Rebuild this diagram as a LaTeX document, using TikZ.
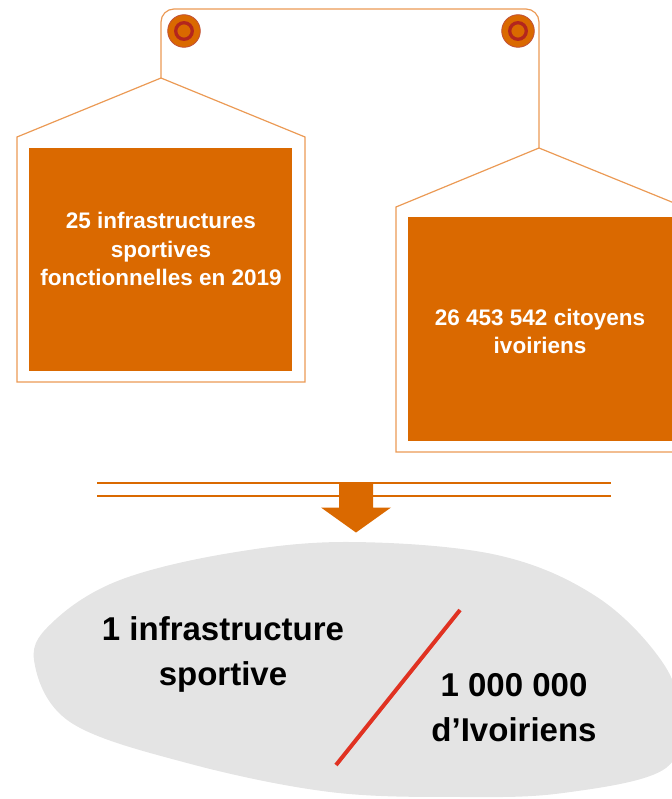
\documentclass[tikz,border=0pt]{standalone}
\usepackage{fontspec}
\setmainfont{Liberation Sans}
\definecolor{orng}{HTML}{DA6900}
\definecolor{edgeor}{HTML}{EB9A55}
\definecolor{pinedge}{HTML}{C0503A}
\definecolor{pinring}{HTML}{B3261E}
\definecolor{blobgrey}{HTML}{E4E4E4}
\definecolor{slashred}{HTML}{E03222}
\begin{document}
\begin{tikzpicture}[x=1pt,y=-1pt,
  outline/.style={draw=edgeor, line width=1.2pt, line join=miter},
  orbox/.style={fill=orng, draw=none, inner sep=0pt, outer sep=0pt},
  tack/.style={circle, fill=orng, draw=pinedge, line width=0.8pt, minimum size=32.6pt, inner sep=0pt},
  tagtext/.style={text=white, font=\bfseries\fontsize{22.5}{28}\selectfont, align=center, inner sep=0pt},
  blobtext/.style={text=black, font=\bfseries\fontsize{33}{45}\selectfont, align=center, inner sep=0pt},
  rule/.style={draw=orng, line width=2pt}]
\useasboundingbox (0,0) rectangle (671,799);
% grey blob
\fill[blobgrey] plot[smooth cycle, tension=0.6] coordinates {(34,660) (55,620) (120,580) (230,553) (350,542) (497,555) (597,597) (663,663) (680,720) (663,770) (563,793) (463,797) (330,792) (187,763) (70,722)};
% hanging frame
\draw[outline, rounded corners=13pt] (161,79) -- (161,9) -- (539,9) -- (539,148);
% tags
\draw[outline] (161,78) -- (305,137) -- (305,382) -- (17,382) -- (17,137) -- cycle;
\draw[outline] (539,148) -- (684,207) -- (684,452) -- (396,452) -- (396,207) -- cycle;
% orange boxes
\node[orbox, minimum width=263pt, minimum height=223pt] (boxL) at (160.5,259.5) {};
\node[orbox, minimum width=264pt, minimum height=224pt] (boxR) at (540,329) {};
\node[tagtext, anchor=base] (txtL) at (161,285) {25 infrastructures\\sportives\\fonctionnelles en 2019};
\node[tagtext, anchor=base] (txtR) at (540,353) {26 453 542 citoyens\\ivoiriens};
% pins
\node[tack] (pinL) at (184,31) {};
\node[tack] (pinR) at (518,31) {};
\draw[pinring, line width=3.3pt] (pinL.center) circle[radius=8.3pt];
\draw[pinring, line width=3.3pt] (pinR.center) circle[radius=8.3pt];
% double rule and arrow
\draw[rule] (97,483) -- (611,483);
\draw[rule] (97,496) -- (611,496);
\fill[orng] (339,483) -- (373,483) -- (373,507.5) -- (391,507.5) -- (356,532.5) -- (321,507.5) -- (339,507.5) -- cycle;
% slash
\draw[slashred, line width=4pt] (460,610) -- (336,765);
% blob texts
\node[blobtext, anchor=base] (num) at (223,685) {1 infrastructure\\sportive};
\node[blobtext, anchor=base] (den) at (514,741) {1 000 000\\d’Ivoiriens};
\end{tikzpicture}
\end{document}
